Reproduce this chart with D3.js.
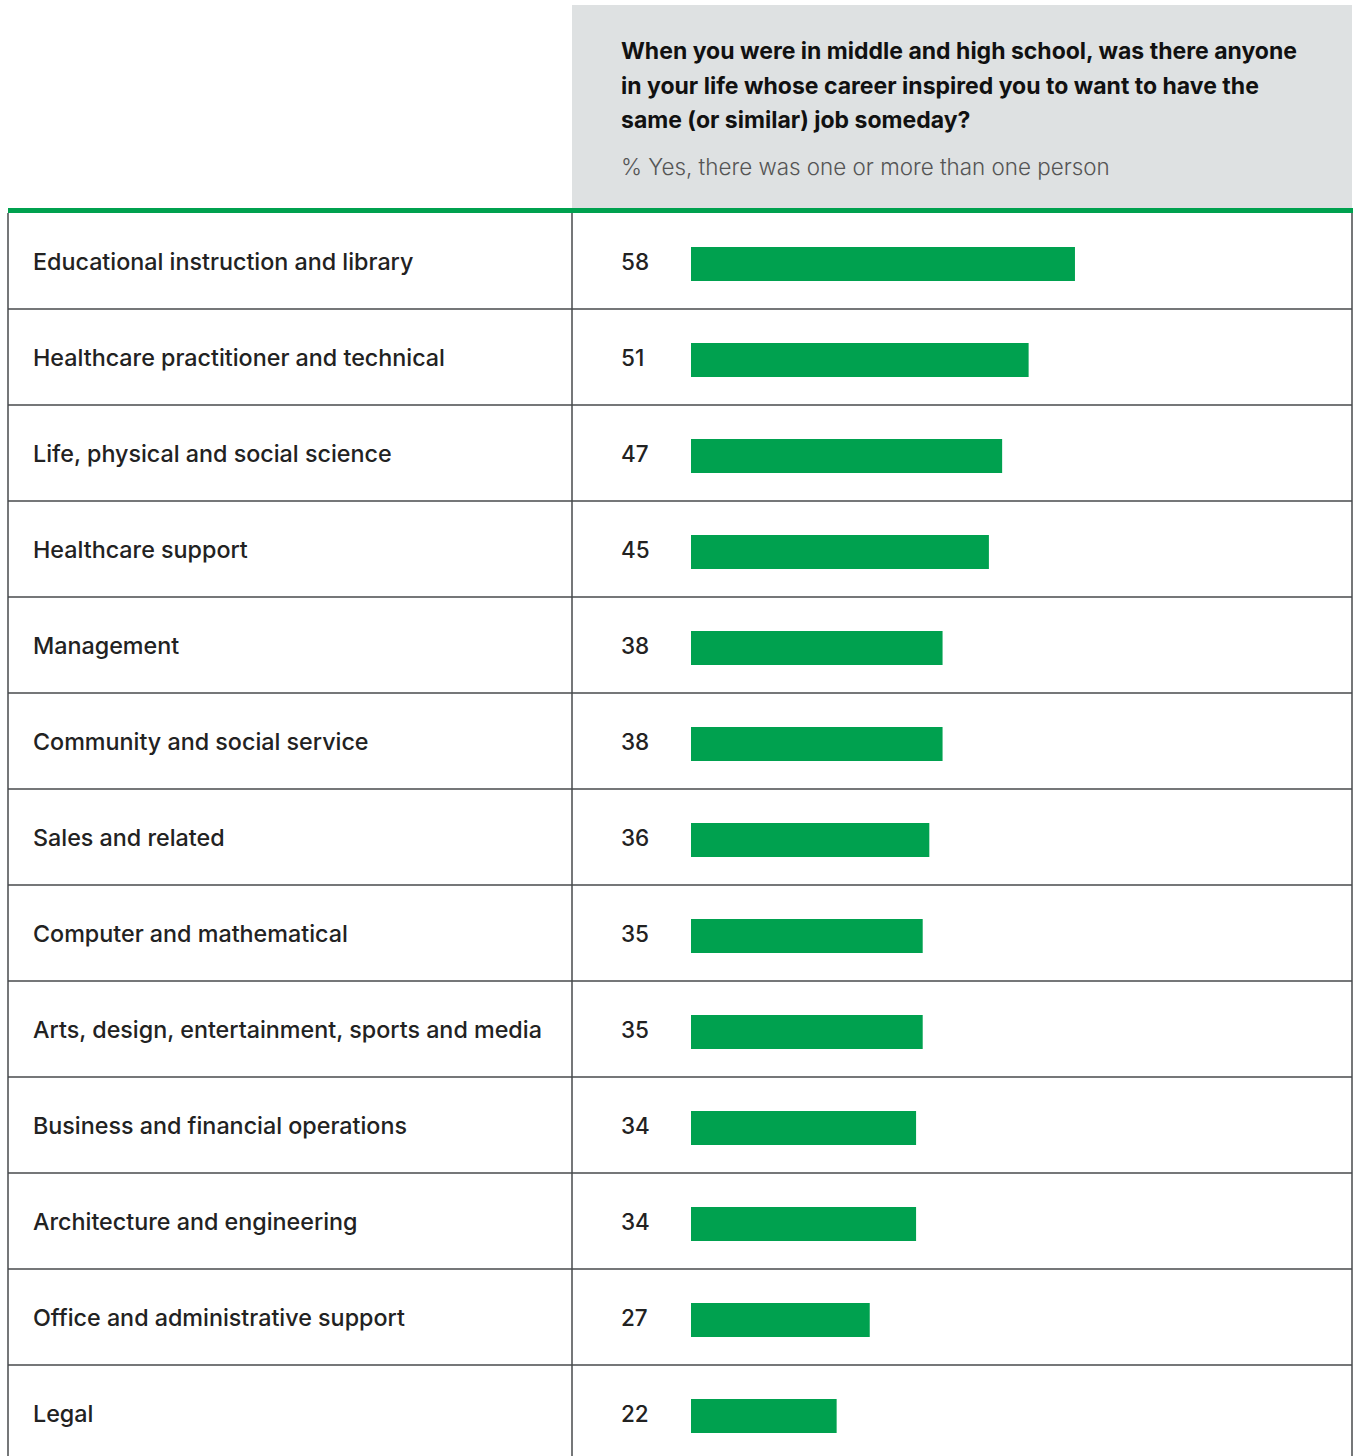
<!DOCTYPE html>
<html>
<head>
<meta charset="utf-8">
<script src="https://cdn.jsdelivr.net/npm/d3@7/dist/d3.min.js"></script>
<style>
  html, body { margin: 0; padding: 0; background: #fff; }
  svg { display: block; }
</style>
</head>
<body>
<svg id="chart" width="1353" height="1456"></svg>
<script>
// Occupation groups and share answering "yes"
const categories = [
  "Educational instruction and library",
  "Healthcare practitioner and technical",
  "Life, physical and social science",
  "Healthcare support",
  "Management",
  "Community and social service",
  "Sales and related",
  "Computer and mathematical",
  "Arts, design, entertainment, sports and media",
  "Business and financial operations",
  "Architecture and engineering",
  "Office and administrative support",
  "Legal"
];
const values = [58, 51, 47, 45, 38, 38, 36, 35, 35, 34, 34, 27, 22];

const titleLines = [
  "When you were in middle and high school, was there anyone",
  "in your life whose career inspired you to want to have the",
  "same (or similar) job someday?"
];
const subtitle = "% Yes, there was one or more than one person";

const W = 1353, H = 1456;
const left = 8, right = 1352, divider = 572;
const tableTop = 213, rowH = 96;
const green = "#00a14f", grey = "#dee1e2", rule = "#474a4c";
const font = "Inter, Roboto, sans-serif";

const svg = d3.select("#chart");

// Header panel above the value column
svg.append("rect")
  .attr("x", divider).attr("y", 5)
  .attr("width", right - divider).attr("height", tableTop - 5)
  .attr("fill", grey);

svg.append("g").selectAll("text")
  .data(titleLines)
  .join("text")
  .attr("x", 621)
  .attr("y", (d, i) => 59 + i * 34.5)
  .attr("font-family", font)
  .attr("font-size", 23)
  .attr("font-weight", 700)
  .attr("fill", "#111")
  .text(d => d);

svg.append("text")
  .attr("x", 621).attr("y", 175)
  .attr("font-family", font)
  .attr("font-size", 22.4)
  .attr("font-weight", 300)
  .attr("fill", "#555")
  .text(subtitle);

// Row scale and bar length scale
const y = d3.scaleBand()
  .domain(categories)
  .range([tableTop, tableTop + rowH * categories.length])
  .paddingInner(0).paddingOuter(0);

const x = d3.scaleLinear().domain([0, 100]).range([691, 691 + 662]);

const rows = svg.append("g").selectAll("g")
  .data(categories.map((c, i) => ({ c, v: values[i] })))
  .join("g")
  .attr("transform", d => `translate(0,${y(d.c)})`);

// Row separators
rows.filter((d, i) => i > 0)
  .append("line")
  .attr("x1", left).attr("x2", right)
  .attr("y1", 0).attr("y2", 0)
  .attr("stroke", rule).attr("stroke-width", 1.5);

rows.append("text")
  .attr("x", 33)
  .attr("y", y.bandwidth() / 2 + 9)
  .attr("font-family", font)
  .attr("font-size", 23.3)
  .attr("font-weight", 500)
  .attr("fill", "#222")
  .text(d => d.c);

rows.append("text")
  .attr("x", 621)
  .attr("y", y.bandwidth() / 2 + 9)
  .attr("font-family", font)
  .attr("font-size", 22.5)
  .attr("font-weight", 500)
  .attr("fill", "#222")
  .text(d => d.v);

rows.append("rect")
  .attr("x", x(0))
  .attr("y", 34)
  .attr("width", d => x(d.v) - x(0))
  .attr("height", 34)
  .attr("fill", green);

// Vertical borders of the table
[left, divider, right].forEach(xx => {
  svg.append("line")
    .attr("x1", xx).attr("x2", xx)
    .attr("y1", tableTop).attr("y2", H)
    .attr("stroke", rule).attr("stroke-width", 1.5);
});

// Green rule under the header
svg.append("rect")
  .attr("x", left).attr("y", 208)
  .attr("width", right - left + 1).attr("height", 5)
  .attr("fill", green);
</script>
</body>
</html>
